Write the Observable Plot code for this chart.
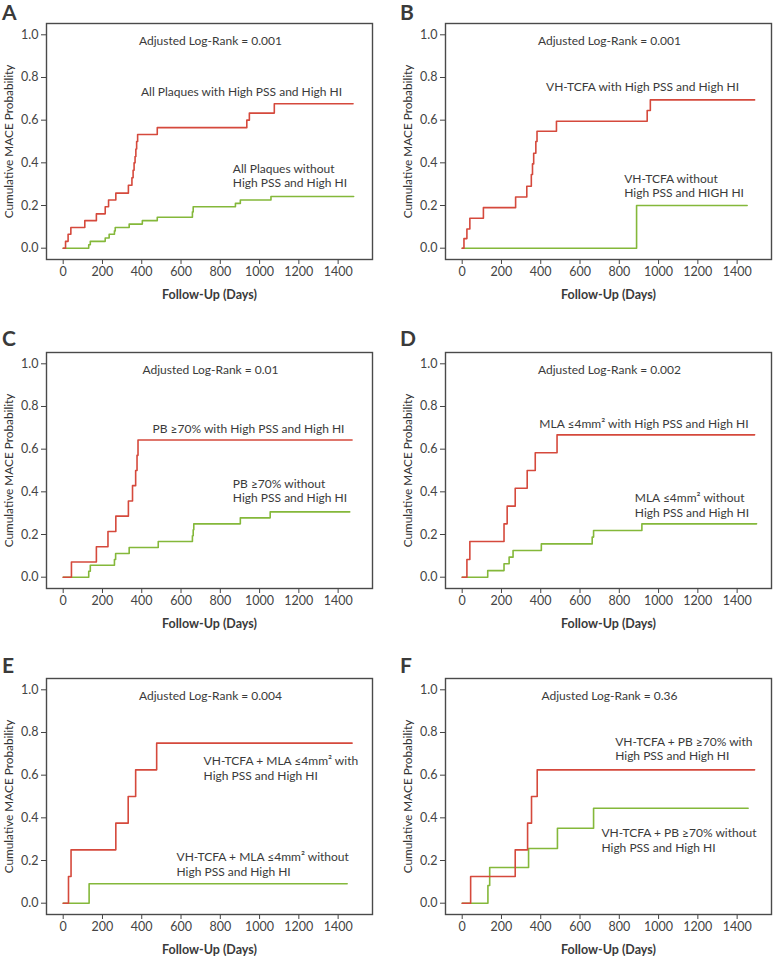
<!DOCTYPE html>
<html><head><meta charset="utf-8">
<script src="https://cdn.jsdelivr.net/npm/d3@7"></script>
<script src="https://cdn.jsdelivr.net/npm/@observablehq/plot@0.6"></script>
<style>
body{margin:0;background:#fff;font-family:Lato,"Noto Sans",sans-serif}
#wrap{position:relative;width:773px;height:956px;overflow:hidden}
.panel{position:absolute}
.letter{position:absolute;font-family:Lato,sans-serif;font-weight:700;font-size:21px;line-height:24px;color:#3a3a3a}
g[aria-label="y-axis label"]{font-size:11.8px;font-weight:400;fill:#333}
g[aria-label="x-axis label"]{font-size:12.5px;font-weight:700;fill:#3a3a3a}
</style></head><body><div id="wrap"></div>
<script>
const panelLetters = ["A","B","C","D","E","F"];
const logRankValues = ["0.001","0.001","0.01","0.002","0.004","0.36"];
const xTicks = [0,200,400,600,800,1000,1200,1400];
const yTicks = [0,0.2,0.4,0.6,0.8,1.0];

// "with High PSS and High HI" curves (red)
const withDays = [
  [0,12,25,39,110,169,214,231,268,332,350,356,361,366,370,374,379,479,935,948,1075,1476],
  [0,9,24,39,108,272,329,352,358,364,375,381,480,942,958,1489],
  [0,42,169,228,268,332,353,369,376,381,1471],
  [0,24,39,213,229,270,331,372,483,1489],
  [0,27,40,268,331,369,476,1471],
  [0,43,270,333,353,382,1489]
];
const withProb = [
  [0,0.032,0.065,0.097,0.129,0.161,0.194,0.226,0.258,0.295,0.33,0.365,0.40,0.43,0.465,0.50,0.533,0.565,0.60,0.633,0.677,0.677],
  [0,0.045,0.09,0.14,0.19,0.24,0.29,0.345,0.395,0.445,0.50,0.548,0.595,0.645,0.695,0.695],
  [0,0.071,0.143,0.214,0.286,0.357,0.429,0.5,0.571,0.643,0.643],
  [0,0.083,0.167,0.25,0.333,0.417,0.5,0.583,0.667,0.667],
  [0,0.125,0.25,0.375,0.5,0.625,0.75,0.75],
  [0,0.125,0.25,0.375,0.5,0.625,0.625]
];
// "without High PSS and High HI" curves (green)
const withoutDays = [
  [0,130,138,214,234,261,265,336,403,479,658,662,877,902,1058,1479],
  [0,888,1451],
  [0,130,138,261,267,336,484,658,662,665,902,1054,1459],
  [0,130,213,239,259,403,662,669,915,1499],
  [0,132,1446],
  [0,131,140,338,485,669,1456]
];
const withoutProb = [
  [0,0.016,0.032,0.048,0.065,0.081,0.097,0.113,0.129,0.145,0.17,0.194,0.21,0.226,0.242,0.242],
  [0,0.2,0.2],
  [0,0.028,0.056,0.083,0.111,0.139,0.167,0.194,0.222,0.25,0.278,0.306,0.306],
  [0,0.031,0.063,0.094,0.125,0.156,0.188,0.219,0.25,0.25],
  [0,0.091,0.091],
  [0,0.083,0.167,0.256,0.351,0.445,0.445]
];
const withLabels = [
  "All Plaques with High PSS and High HI",
  "VH-TCFA with High PSS and High HI",
  "PB \u226570% with High PSS and High HI",
  "MLA \u22644mm\u00b2 with High PSS and High HI",
  "VH-TCFA + MLA \u22644mm\u00b2 with\nHigh PSS and High HI",
  "VH-TCFA + PB \u226570% with\nHigh PSS and High HI"
];
const withoutLabels = [
  "All Plaques without\nHigh PSS and High HI",
  "VH-TCFA without\nHigh PSS and HIGH HI",
  "PB \u226570% without\nHigh PSS and High HI",
  "MLA \u22644mm\u00b2 without\nHigh PSS and High HI",
  "VH-TCFA + MLA \u22644mm\u00b2 without\nHigh PSS and High HI",
  "VH-TCFA + PB \u226570% without\nHigh PSS and High HI"
];
// annotation anchor points (day, probability) for label starts
const withLabelAt = [[396,0.734],[427,0.760],[455,0.697],[393,0.719],[715,0.634],[779,0.725]];
const withoutLabelAt = [[864,0.342],[825,0.295],[864,0.408],[879,0.338],[577,0.185],[709,0.297]];
const logRankAt = [750,0.968];

const RED = "#d5493c", GREEN = "#84b83a", INK = "#3a3a3a";
const panelLeft = [0,399,0,399,0,399];
const panelTop = [0,0,329,329,655,655];
const letterTop = [0,0,326,326,653,653];
const letterLeft = [2,400,2,400,2,400];

const wrap = document.getElementById("wrap");
panelLetters.forEach((L,i)=>{
  const wd = withDays[i].map((d,j)=>({day:d,p:withProb[i][j]}));
  const wod = withoutDays[i].map((d,j)=>({day:d,p:withoutProb[i][j]}));
  const chart = Plot.plot({
    width:374, height:301,
    marginLeft:46, marginRight:2, marginTop:23, marginBottom:42,
    x:{domain:[-85,1575]},
    y:{domain:[-0.053,1.053]},
    style:{fontFamily:"Lato, 'Noto Sans', sans-serif", fontSize:"12.5px", color:"#444", background:"transparent", overflow:"visible"},
    marks:[
      Plot.axisY({ticks:yTicks, tickFormat:d3.format(".1f"), tickSize:5, tickPadding:3,
        label:"Cumulative MACE Probability", labelAnchor:"center", labelArrow:"none", labelOffset:42}),
      Plot.axisX({ticks:xTicks, tickFormat:d3.format("d"), tickSize:5, tickPadding:3,
        label:"Follow-Up (Days)", labelAnchor:"center", labelArrow:"none", labelOffset:39}),
      Plot.line(wod, {x:"day", y:"p", curve:"step-after", stroke:GREEN, strokeWidth:1.6}),
      Plot.line(wd, {x:"day", y:"p", curve:"step-after", stroke:RED, strokeWidth:1.6}),
      Plot.frame({stroke:"#4a4a4a", strokeWidth:1.4}),
      Plot.text([`Adjusted Log-Rank = ${logRankValues[i]}`], {x:logRankAt[0], y:logRankAt[1], text:d=>d, textAnchor:"middle", fill:INK, fontSize:12}),
      Plot.text([withLabels[i]], {x:withLabelAt[i][0], y:withLabelAt[i][1], text:d=>d, textAnchor:"start", fill:INK, fontSize:12, lineHeight:1.2}),
      Plot.text([withoutLabels[i]], {x:withoutLabelAt[i][0], y:withoutLabelAt[i][1], text:d=>d, textAnchor:"start", fill:INK, fontSize:12, lineHeight:1.2})
    ]
  });
  chart.classList.add("panel");
  chart.style.left = panelLeft[i]+"px";
  chart.style.top = panelTop[i]+"px";
  wrap.appendChild(chart);
  const lt = document.createElement("div");
  lt.className = "letter";
  lt.textContent = L;
  lt.style.left = letterLeft[i]+"px";
  lt.style.top = letterTop[i]+"px";
  wrap.appendChild(lt);
});
</script>
</body></html>
